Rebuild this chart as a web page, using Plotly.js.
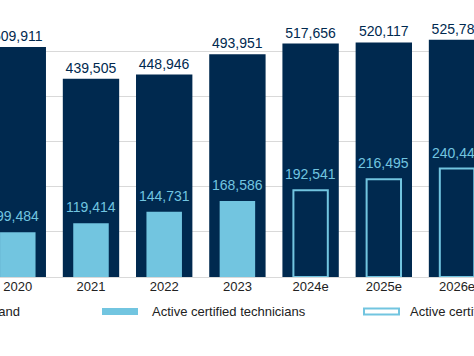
<!DOCTYPE html>
<html>
<head>
<meta charset="utf-8">
<script src="https://cdn.plot.ly/plotly-3.0.1.min.js"></script>
<style>html,body{margin:0;padding:0;background:#fff;}#chart{width:474px;height:356px;}</style>
</head>
<body>
<div id="chart"></div>
<script>
const years = ["2020", "2021", "2022", "2023", "2024e", "2025e", "2026e"];
const demand = [509911, 439505, 448946, 493951, 517656, 520117, 525785];
const activeActual = [99484, 119414, 144731, 168586, null, null, null];
const activeEstimated = [null, null, null, null, 192541, 216495, 240441];
const gridValues = [0, 100000, 200000, 300000, 400000, 500000];
const legendLabels = ["Technician demand", "Active certified technicians", "Active certified technicians (estimated)"];

const NAVY = "#00294f";
const CYAN = "#72c5e0";
const FONT = "Liberation Sans, Arial, sans-serif";
const W = 474, H = 356, PB = 79;
const PH = H - PB;
const fmt = v => v == null ? "" : v.toLocaleString("en-US");

const traces = [
  {
    type: "bar", x: years, y: demand, width: 0.77,
    marker: {color: NAVY},
    text: demand.map(fmt), textposition: "outside", constraintext: "none",
    textfont: {family: FONT, size: 14, color: NAVY},
    cliponaxis: false, hoverinfo: "skip", name: legendLabels[0]
  },
  {
    type: "bar", x: years, y: activeActual, width: 0.485,
    marker: {color: CYAN},
    hoverinfo: "skip", name: legendLabels[1]
  },
  {
    type: "bar", x: years, y: activeEstimated, width: 0.47,
    marker: {color: NAVY, line: {color: CYAN, width: 2}},
    hoverinfo: "skip", name: legendLabels[2]
  }
];

// value labels for the active-technician bars, anchored to data coordinates
// (x given as the category index so numeric-looking year strings are not misread)
const valueLabels = [];
years.forEach((yr, i) => {
  const v = activeActual[i] != null ? activeActual[i] : activeEstimated[i];
  if (v == null) return;
  valueLabels.push({
    x: i, y: v, xref: "x", yref: "y", xanchor: "center", yanchor: "bottom",
    yshift: 6, text: fmt(v), showarrow: false,
    font: {family: FONT, size: 14, color: CYAN}
  });
});

// legend drawn in paper coordinates (pixel helpers)
const px = p => p / W;
const py = p => (PH - p) / PH;
const legY = 311.5;

const layout = {
  width: W, height: H,
  margin: {l: 0, r: 0, t: 0, b: PB, pad: 0},
  paper_bgcolor: "#ffffff", plot_bgcolor: "#ffffff",
  barmode: "overlay",
  showlegend: false,
  font: {family: FONT, color: "#222222"},
  xaxis: {
    type: "category", range: [-0.243, 6.232],
    showgrid: false, zeroline: false, showline: false,
    ticks: "", tickfont: {family: FONT, size: 13, color: "#222222"},
    fixedrange: true
  },
  yaxis: {
    range: [0, 614190], tickmode: "array", tickvals: gridValues,
    showgrid: true, gridcolor: "#d9d9d9", gridwidth: 1,
    zeroline: true, zerolinecolor: "#d9d9d9", zerolinewidth: 1,
    showticklabels: false, ticks: "", showline: false, fixedrange: true
  },
  shapes: [
    {type: "rect", xref: "paper", yref: "paper",
     x0: px(-159), x1: px(-122), y0: py(legY + 3.5), y1: py(legY - 3.5),
     fillcolor: NAVY, line: {width: 0}},
    {type: "rect", xref: "paper", yref: "paper",
     x0: px(102), x1: px(138), y0: py(legY + 3.5), y1: py(legY - 3.5),
     fillcolor: CYAN, line: {width: 0}},
    {type: "rect", xref: "paper", yref: "paper",
     x0: px(364), x1: px(399), y0: py(legY + 3), y1: py(legY - 3),
     fillcolor: "rgba(0,0,0,0)", line: {color: CYAN, width: 2}}
  ],
  annotations: valueLabels.concat([
    {xref: "paper", yref: "paper", x: px(22), y: py(legY), xanchor: "right", yanchor: "middle",
     text: legendLabels[0], showarrow: false, font: {family: FONT, size: 13, color: "#222222"}},
    {xref: "paper", yref: "paper", x: px(150), y: py(legY), xanchor: "left", yanchor: "middle",
     text: legendLabels[1], showarrow: false, font: {family: FONT, size: 13, color: "#222222"}},
    {xref: "paper", yref: "paper", x: px(408), y: py(legY), xanchor: "left", yanchor: "middle",
     text: legendLabels[2], showarrow: false, font: {family: FONT, size: 13, color: "#222222"}}
  ])
};

Plotly.newPlot("chart", traces, layout, {displayModeBar: false, staticPlot: true});
</script>
</body>
</html>
